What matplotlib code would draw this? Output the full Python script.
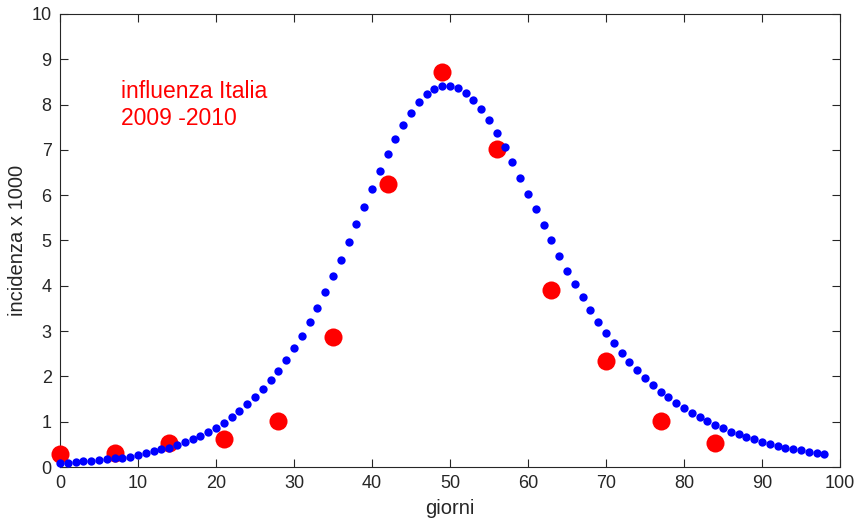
import numpy as np
import matplotlib
matplotlib.use("Agg")
import matplotlib.pyplot as plt

plt.rcParams["font.family"] = ["Liberation Sans", "DejaVu Sans"]

# modello (punti giornalieri)
giorni_modello = np.arange(0, 99)
incidenza_modello = [
    0.08, 0.095, 0.11, 0.125, 0.14, 0.155, 0.17, 0.19, 0.205, 0.23,
    0.265, 0.31, 0.35, 0.39, 0.43, 0.485, 0.545, 0.61, 0.685, 0.77,
    0.87, 0.98, 1.10, 1.23, 1.38, 1.54, 1.72, 1.92, 2.13, 2.37,
    2.62, 2.90, 3.20, 3.52, 3.86, 4.22, 4.58, 4.97, 5.36, 5.75,
    6.14, 6.53, 6.90, 7.24, 7.55, 7.82, 8.05, 8.23, 8.35, 8.42,
    8.42, 8.37, 8.26, 8.10, 7.90, 7.65, 7.37, 7.06, 6.73, 6.39,
    6.03, 5.69, 5.34, 5.00, 4.66, 4.33, 4.04, 3.75, 3.47, 3.21,
    2.96, 2.73, 2.52, 2.32, 2.14, 1.97, 1.81, 1.66, 1.54, 1.41,
    1.30, 1.19, 1.10, 1.01, 0.93, 0.85, 0.78, 0.72, 0.66, 0.61,
    0.56, 0.51, 0.47, 0.43, 0.40, 0.37, 0.34, 0.31, 0.29,
]

# dati settimanali
giorni_dati = [0, 7, 14, 21, 28, 35, 42, 49, 56, 63, 70, 77, 84]
incidenza_dati = [0.28, 0.30, 0.53, 0.61, 1.01, 2.87, 6.25, 8.71, 7.01, 3.91, 2.35, 1.01, 0.54]

fig = plt.figure(figsize=(8.6, 5.2), dpi=100)
ax = fig.add_axes([60 / 860, 1 - 467 / 520, 780 / 860, 453 / 520])

ax.plot(giorni_dati, incidenza_dati, "o", color="red", markersize=13,
        markeredgewidth=0, clip_on=False, zorder=3)
ax.plot(giorni_modello, incidenza_modello, "o", color="blue", markersize=6,
        markeredgewidth=0, clip_on=False, zorder=4)

ax.set_xlim(0, 100)
ax.set_ylim(0, 10)
ax.set_xticks(np.arange(0, 101, 10))
ax.set_yticks(np.arange(0, 11, 1))
ax.tick_params(direction="in", top=True, right=True, length=6, width=0.8,
               labelsize=13, colors="#262626", pad=6)
for s in ax.spines.values():
    s.set_color("#262626")
    s.set_linewidth(0.8)

ax.set_xlabel("giorni", fontsize=14.5, color="#262626", labelpad=5)
ax.set_ylabel("incidenza x 1000", fontsize=14.5, color="#262626", labelpad=3)

ax.text(7.8, 8.54, "influenza Italia\n2009 -2010", color="red", fontsize=16.5,
        va="top", ha="left", linespacing=1.2)

fig.savefig("out.png", dpi=100)
